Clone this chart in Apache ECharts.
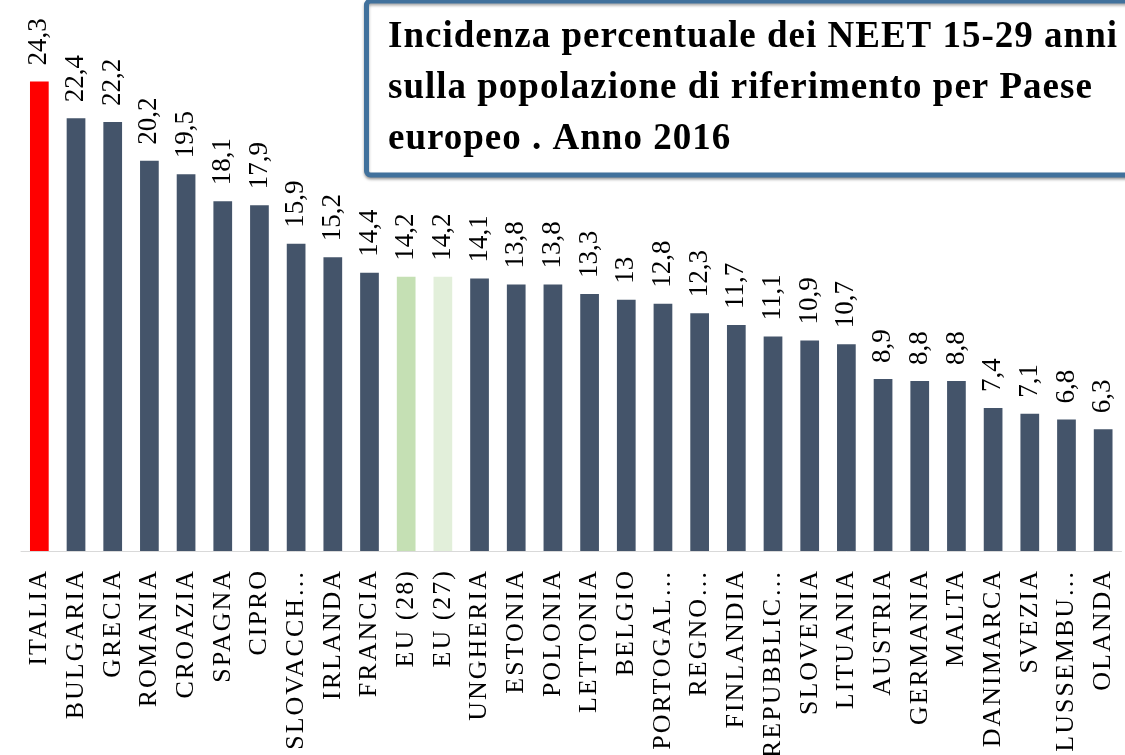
<!DOCTYPE html>
<html>
<head>
<meta charset="utf-8">
<script src="https://cdn.jsdelivr.net/npm/echarts@6/dist/echarts.min.js"></script>
<style>
html,body{margin:0;padding:0;background:#fff;}
#chart{width:1125px;height:755px;}
</style>
</head>
<body>
<div id="chart"></div>
<script>
// ---- data ----
const categories = ['ITALIA','BULGARIA','GRECIA','ROMANIA','CROAZIA','SPAGNA','CIPRO','SLOVACCH…','IRLANDA','FRANCIA',
  'EU (28)','EU (27)','UNGHERIA','ESTONIA','POLONIA','LETTONIA','BELGIO','PORTOGAL…','REGNO…','FINLANDIA',
  'REPUBBLIC…','SLOVENIA','LITUANIA','AUSTRIA','GERMANIA','MALTA','DANIMARCA','SVEZIA','LUSSEMBU…','OLANDA'];
const values = [24.3,22.4,22.2,20.2,19.5,18.1,17.9,15.9,15.2,14.4,
  14.2,14.2,14.1,13.8,13.8,13.3,13,12.8,12.3,11.7,
  11.1,10.9,10.7,8.9,8.8,8.8,7.4,7.1,6.8,6.3];
const titleLines = ['Incidenza percentuale dei NEET 15-29 anni',
  'sulla popolazione di riferimento per Paese',
  'europeo . Anno 2016'];

// ---- styles ----
const defaultColor = '#44546a';
const highlight = { 'ITALIA': '#ff0000', 'EU (28)': '#c5e0b4', 'EU (27)': '#e2efda' };

// letter spacing for some text (canvas-level)
(function(){
  const proto = CanvasRenderingContext2D.prototype;
  const orig = proto.fillText;
  proto.fillText = function(t, x, y, m){
    if ('letterSpacing' in this) {
      const f = this.font || '';
      if (/\b26px\b/.test(f)) this.letterSpacing = '2px';
      else if (/\b37px\b/.test(f)) this.letterSpacing = '1px';
      else this.letterSpacing = '0px';
    }
    return m === undefined ? orig.call(this, t, x, y) : orig.call(this, t, x, y, m);
  };
})();

const chart = echarts.init(document.getElementById('chart'), null, {renderer:'canvas'});
const serif = 'Liberation Serif';

const option = {
  animation: false,
  backgroundColor: '#ffffff',
  grid: { left: 21, right: 3.5, top: 68, bottom: 204, containLabel: false },
  xAxis: {
    type: 'category',
    data: categories,
    axisLine: { show: true, lineStyle: { color: '#d9d9d9', width: 1 } },
    axisTick: { show: false },
    axisLabel: {
      interval: 0, rotate: 90, margin: 18,
      fontFamily: serif, fontSize: 26, color: '#000'
    }
  },
  yAxis: {
    type: 'value', min: 0, max: 25,
    show: false, splitLine: { show: false }
  },
  series: [{
    type: 'bar',
    barWidth: '51%',
    data: values.map((v, i) => ({
      value: v,
      itemStyle: { color: highlight[categories[i]] || defaultColor }
    })),
    label: {
      show: true, position: 'top', rotate: 90, distance: 16,
      align: 'left', verticalAlign: 'middle',
      fontFamily: serif, fontSize: 27, color: '#000',
      formatter: p => String(p.value).replace('.', ',')
    }
  }],
  graphic: [
    {
      type: 'rect', z: 10,
      shape: { x: 366.5, y: 1, width: 800, height: 174, r: 4 },
      style: { fill: '#ffffff', stroke: '#41719c', lineWidth: 5,
        shadowColor: 'rgba(0,0,0,0.35)', shadowBlur: 3, shadowOffsetX: 0, shadowOffsetY: 2 }
    },
    ...titleLines.map((t, i) => ({
      type: 'text', z: 11,
      x: 388, y: 37 + i * 51,
      style: { text: t, fontFamily: serif, fontWeight: 'bold', fontSize: 37,
        fill: '#000', align: 'left', verticalAlign: 'middle' }
    }))
  ]
};
chart.setOption(option);
</script>
</body>
</html>
